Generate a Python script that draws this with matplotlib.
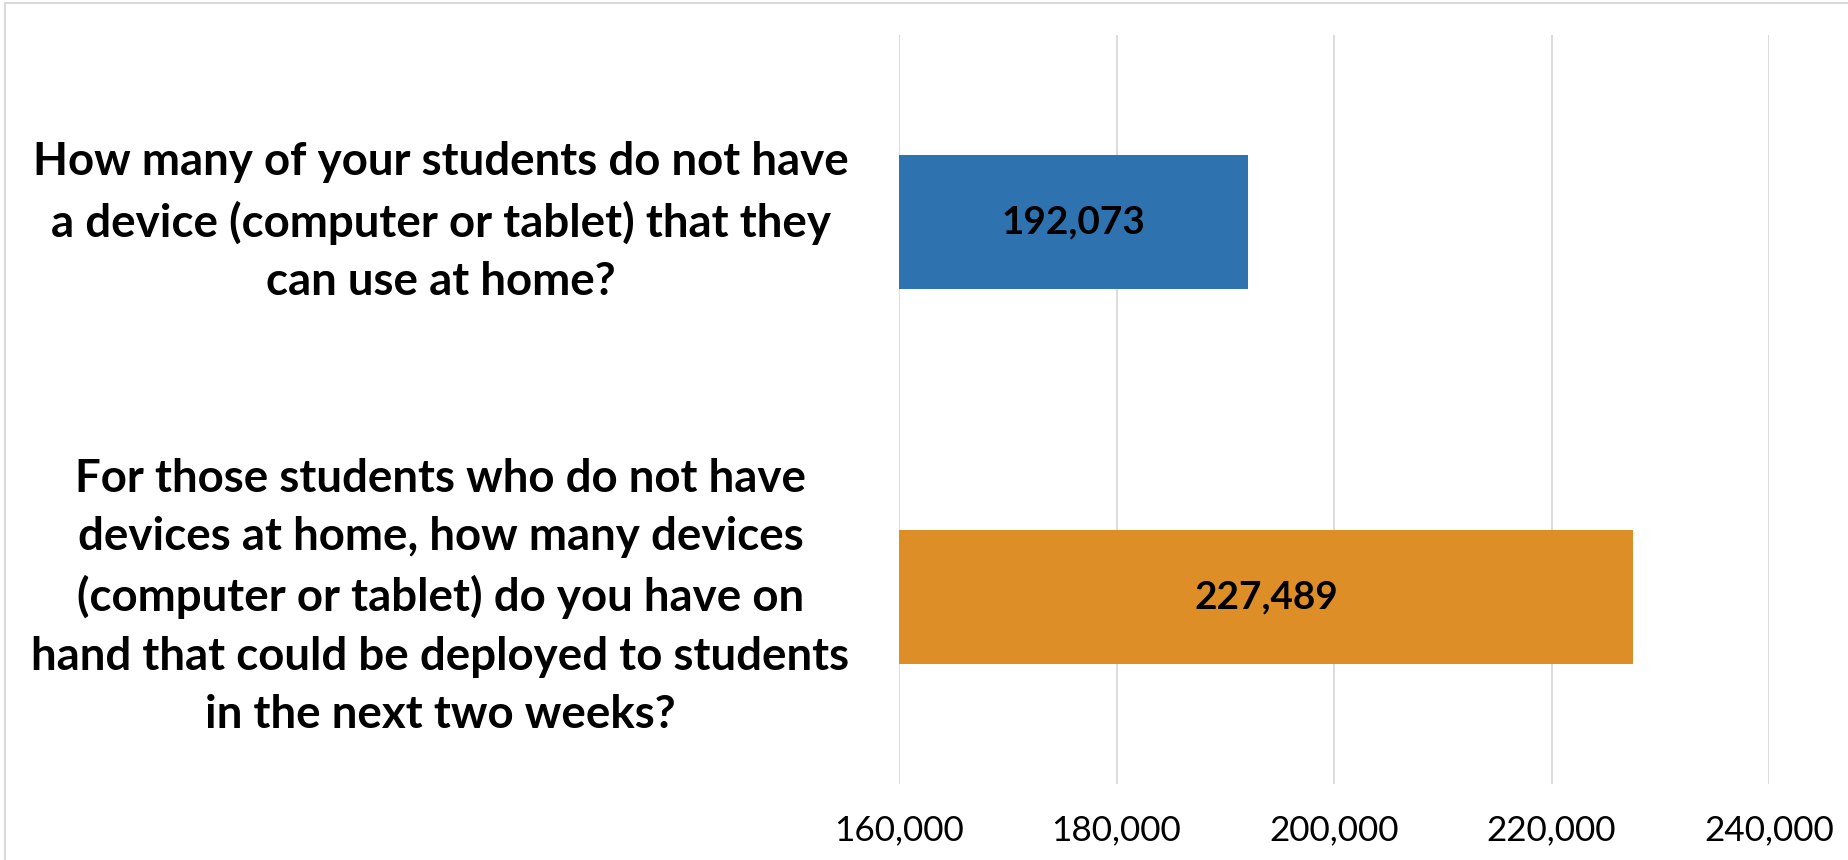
import matplotlib
matplotlib.use('Agg')
import matplotlib.pyplot as plt
from matplotlib.ticker import FuncFormatter
from matplotlib.patches import Rectangle

categories = [
    "How many of your students do not have\na device (computer or tablet) that they\ncan use at home?",
    "For those students who do not have\ndevices at home, how many devices\n(computer or tablet) do you have on\nhand that could be deployed to students\nin the next two weeks?",
]
values = [192073, 227489]
colors = ['#2E72B0', '#DE8E26']
xticks = [160000, 180000, 200000, 220000, 240000]

W, H = 1849, 860
FONT = 'Lato'
fig = plt.figure(figsize=(W / 100, H / 100), dpi=100)
ax = fig.add_axes([899 / W, 1 - 784 / H, 870 / W, 749 / H])

ypos = [1, 0]
ax.barh(ypos, values, height=0.357, color=colors, zorder=2)
ax.set_xlim(xticks[0], xticks[-1])
ax.set_ylim(-0.5, 1.5)
ax.set_xticks(xticks)
ax.xaxis.set_major_formatter(FuncFormatter(lambda v, p: f"{int(v):,}"))
ax.grid(axis='x', color='#D9D9D9', linewidth=1.3, zorder=0)
ax.set_yticks([])
for s in ax.spines.values():
    s.set_visible(False)
ax.tick_params(axis='x', length=0, pad=22)

renderer = fig.canvas.get_renderer()

def fitted_size(s, target_w, weight='normal'):
    probe = fig.text(0, 0, s, fontsize=24, family=FONT, fontweight=weight)
    bb = probe.get_window_extent(renderer)
    probe.remove()
    return 24 * target_w / bb.width

# tick labels
tsize = fitted_size("160,000", 130)
for lab in ax.get_xticklabels():
    lab.set_fontfamily(FONT)
    lab.set_fontsize(tsize)
    lab.set_color('#000000')

# data labels
dsize = fitted_size("192,073", 144, 'bold')
for yv, v in zip(ypos, values):
    ax.text((xticks[0] + v) / 2, yv, f"{v:,}", ha='center', va='center',
            fontsize=dsize, fontweight='bold', family=FONT, color='black', zorder=3)

# category labels
csize = fitted_size("hand that could be deployed to students", 820, 'bold')
ls = 1.48
for yv, c in zip(ypos, categories):
    ax.text(-0.527, yv, c, transform=ax.get_yaxis_transform(), ha='center', va='center',
            multialignment='center', fontsize=csize, fontweight='bold', family=FONT,
            color='black', linespacing=ls)

# chart border
fig.patches.append(Rectangle((5 / W, -0.01), 1.02, 1 - 3 / H + 0.01, transform=fig.transFigure,
                             fill=False, edgecolor='#D9D9D9', linewidth=1.5))

fig.savefig('out.png', dpi=100, facecolor='white')
